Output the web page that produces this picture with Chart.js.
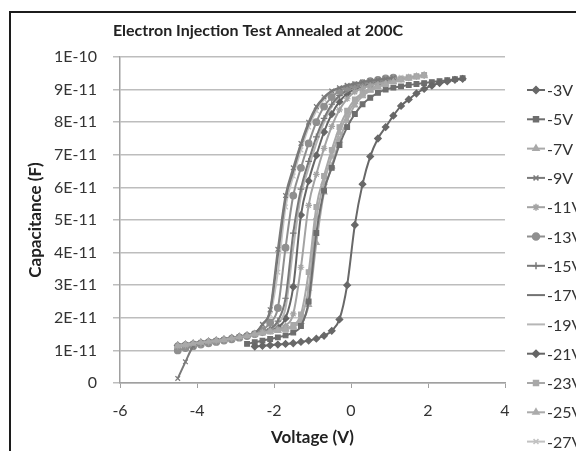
<!DOCTYPE html>
<html>
<head>
<meta charset="utf-8">
<script src="https://cdn.jsdelivr.net/npm/chart.js@4/dist/chart.umd.min.js"></script>
<style>
  html, body { margin: 0; padding: 0; background: #fff; overflow: hidden; }
  #frame { position: absolute; left: 9px; top: 11px; width: 700px; height: 600px;
           border-left: 2px solid #1c1c1c; border-top: 2px solid #1c1c1c; }
  #wrap { position: absolute; left: 0; top: 0; width: 576px; height: 451px; }
</style>
</head>
<body>
<div id="frame"></div>
<div id="wrap"><canvas id="cvChart" width="576" height="451"></canvas></div>
<script>
// voltage sweep (V), shared by all curves
var voltage = [-4.5, -4.3, -4.1, -3.9, -3.7, -3.5, -3.3, -3.1, -2.9, -2.7, -2.5, -2.3, -2.1, -1.9,
  -1.7, -1.5, -1.3, -1.1, -0.9, -0.7, -0.5, -0.3, -0.1, 0.1, 0.3, 0.5, 0.7, 0.9, 1.1, 1.3, 1.5,
  1.7, 1.9, 2.1, 2.3, 2.5, 2.7, 2.9];

// capacitance in units of 1E-11 F, one list per injection voltage
var cap_3 = [null, null, null, null, null, null, null, null, null, null, 1.12, 1.14, 1.16, 1.18,
  1.2, 1.22, 1.26, 1.3, 1.36, 1.45, 1.6, 1.95, 3.0, 4.85, 6.1, 6.95, 7.5, 7.85, 8.2, 8.5, 8.7,
  8.88, 9.02, 9.12, 9.2, 9.25, 9.3, 9.33];
var cap_5 = [null, null, null, null, null, null, null, null, null, 1.2, 1.25, 1.3, 1.35, 1.4,
  1.46, 1.55, 1.75, 2.5, 4.6, 5.9, 6.6, 7.3, 7.85, 8.25, 8.55, 8.75, 8.9, 9.0, 9.06, 9.1, 9.14,
  9.17, 9.2, 9.23, 9.26, 9.29, 9.32, 9.35];
var cap_7 = [1.15, 1.18, 1.21, 1.24, 1.27, 1.3, 1.33, 1.37, 1.41, 1.45, 1.5, 1.53, 1.57, 1.6,
  1.64, 1.72, 1.88, 2.4, 4.3, 5.85, 6.65, 7.45, 8.05, 8.52, 8.8, 8.97, 9.08, 9.16, 9.23, 9.29, 9.34,
  9.38, 9.42];
var cap_9 = [0.14, 0.65, 1.12, 1.22, 1.26, 1.3, 1.33, 1.37, 1.41, 1.46, 1.52, 1.8, 2.25, 4.1,
  5.75, 6.6, 7.35, 8.0, 8.48, 8.77, 8.96, 9.06, 9.13, 9.18, 9.23, 9.27, 9.3, 9.33, 9.36];
var cap_11 = [1.13, 1.16, 1.19, 1.22, 1.25, 1.28, 1.32, 1.36, 1.4, 1.44, 1.49, 1.55, 1.6, 1.65,
  1.76, 2.12, 3.55, 5.45, 6.4, 7.2, 7.87, 8.38, 8.72, 8.93, 9.04, 9.12, 9.18, 9.23, 9.28, 9.32, 9.36,
  9.4, 9.43];
var cap_13 = [1.0, 1.07, 1.13, 1.18, 1.22, 1.26, 1.3, 1.34, 1.39, 1.44, 1.5, 1.62, 1.85, 2.3,
  4.15, 5.75, 6.6, 7.35, 8.0, 8.48, 8.77, 8.96, 9.06, 9.13, 9.2, 9.26, 9.3, 9.34, 9.37];
var cap_15 = [1.16, 1.19, 1.22, 1.25, 1.28, 1.31, 1.34, 1.38, 1.42, 1.46, 1.51, 1.58, 1.66, 1.9,
  2.6, 4.6, 5.95, 6.8, 7.55, 8.12, 8.55, 8.82, 8.98, 9.07, 9.14, 9.19, 9.23, 9.27, 9.3];
var cap_17 = [1.17, 1.2, 1.23, 1.26, 1.29, 1.32, 1.35, 1.39, 1.43, 1.47, 1.53, 1.8, 2.2, 3.9,
  5.65, 6.5, 7.3, 7.95, 8.45, 8.75, 8.95, 9.05, 9.12, 9.18, 9.22, 9.26, 9.3, 9.33, 9.36];
var cap_19 = [1.14, 1.17, 1.2, 1.23, 1.26, 1.29, 1.33, 1.37, 1.41, 1.45, 1.5, 1.57, 1.64, 1.82,
  2.3, 4.15, 5.75, 6.6, 7.35, 8.0, 8.48, 8.77, 8.96, 9.06, 9.13, 9.18, 9.23, 9.27, 9.31, 9.34, 9.37,
  9.4, 9.43];
var cap_21 = [1.15, 1.18, 1.21, 1.24, 1.27, 1.3, 1.34, 1.38, 1.42, 1.46, 1.5, 1.56, 1.62, 1.72,
  1.98, 2.95, 5.15, 6.2, 6.98, 7.7, 8.25, 8.63, 8.87, 9.01, 9.1, 9.16, 9.21, 9.26, 9.3];
var cap_23 = [1.14, 1.17, 1.2, 1.23, 1.26, 1.29, 1.32, 1.36, 1.4, 1.44, 1.49, 1.54, 1.58, 1.62,
  1.67, 1.78, 2.1, 3.4, 5.4, 6.35, 7.15, 7.85, 8.35, 8.7, 8.9, 9.03, 9.12, 9.2, 9.27, 9.32, 9.37,
  9.41, 9.45];
var cap_25 = [1.15, 1.18, 1.21, 1.24, 1.27, 1.3, 1.33, 1.37, 1.41, 1.45, 1.5, 1.54, 1.58, 1.61,
  1.66, 1.74, 1.98, 2.9, 5.07, 6.15, 6.95, 7.68, 8.22, 8.62, 8.86, 9.0, 9.1, 9.18, 9.25, 9.31, 9.36,
  9.4, 9.44];
var cap_27 = [1.16, 1.19, 1.22, 1.25, 1.28, 1.31, 1.34, 1.38, 1.42, 1.46, 1.52, 1.78, 2.1, 3.4,
  5.4, 6.35, 7.15, 7.85, 8.35, 8.7, 8.9, 9.03, 9.11, 9.17, 9.22, 9.26, 9.3, 9.33, 9.36, 9.38, 9.4,
  9.42, 9.44];

var series_names = ["-3V", "-5V", "-7V", "-9V", "-11V", "-13V", "-15V", "-17V", "-19V", "-21V",
  "-23V", "-25V", "-27V"];
var series_values = [cap_3, cap_5, cap_7, cap_9, cap_11, cap_13, cap_15, cap_17, cap_19, cap_21,
  cap_23, cap_25, cap_27];
var series_colors = ["#686868", "#6e6e6e", "#a9a9a9", "#7a7a7a", "#a3a3a3", "#8f8f8f", "#797979",
  "#727272", "#b6b6b6", "#666666", "#a8a8a8", "#ababab", "#c2c2c2"];
var series_markers = ["rectRot", "rect", "triangle", "crossRot", "star", "circle", "cross", false,
  false, "rectRot", "rect", "triangle", "crossRot"];

var y_ticks = [0, 1, 2, 3, 4, 5, 6, 7, 8, 9, 10];
var x_ticks = [-6, -4, -2, 0, 2, 4];

var font_family = "Lato, 'Open Sans', sans-serif";
var text_color = "#333333";

function make_points(values) {
  var pts = [];
  for (var i = 0; i < voltage.length; i++) {
    if (values[i] !== null && values[i] !== undefined) {
      pts.push({ x: voltage[i], y: values[i] });
    }
  }
  return pts;
}

function cap_label(v) {
  if (v === 0) return "0";
  if (v === 10) return "1E-10";
  return v + "E-11";
}

// title drawn off-centre like the original, plus the side legend that runs off the page
var deco_plugin = {
  id: "deco",
  afterDraw: function (chart) {
    var ctx = chart.ctx;
    ctx.save();
    ctx.fillStyle = "#222222";
    ctx.font = "bold 16px " + font_family;
    ctx.textAlign = "center";
    ctx.textBaseline = "middle";
    ctx.fillText("Electron Injection Test Annealed at 200C", 258, 31);

    ctx.font = "16px " + font_family;
    ctx.textAlign = "left";
    for (var i = 0; i < chart.data.datasets.length; i++) {
      var ds = chart.data.datasets[i];
      var ly = 90 + i * 29.3;
      ctx.strokeStyle = ds.borderColor;
      ctx.lineWidth = 2;
      ctx.beginPath();
      ctx.moveTo(527, ly);
      ctx.lineTo(545, ly);
      ctx.stroke();
      if (ds.pointStyle) {
        ctx.fillStyle = ds.borderColor;
        ctx.lineWidth = 1.5;
        Chart.helpers.drawPoint(ctx, { pointStyle: ds.pointStyle, radius: 3.5, borderWidth: 1.5, rotation: 0 }, 536, ly);
      }
      ctx.fillStyle = text_color;
      ctx.fillText(ds.label, 547, ly + 1);
    }
    ctx.restore();
  },
};

function build_chart() {
  var datasets = [];
  for (var i = 0; i < series_names.length; i++) {
    var col = series_colors[i];
    datasets.push({
      label: series_names[i],
      data: make_points(series_values[i]),
      showLine: true,
      borderColor: col,
      backgroundColor: col,
      borderWidth: 2,
      pointStyle: series_markers[i],
      pointRadius: series_markers[i] ? 3.3 : 0,
      pointBorderWidth: 1.2,
      cubicInterpolationMode: "monotone",
    });
  }

  var ctx = document.getElementById("cvChart").getContext("2d");
  var cvChart = new Chart(ctx, {
    type: "scatter",
    data: { datasets: datasets },
    plugins: [deco_plugin],
    options: {
      responsive: false,
      animation: false,
      events: [],
      layout: { padding: { left: 0, top: 57, right: 71, bottom: 0 } },
      plugins: {
        legend: { display: false },
        tooltip: { enabled: false },
      },
      scales: {
        x: {
          type: "linear",
          min: -6,
          max: 4,
          afterFit: function (scale) { scale.height = 68; },
          afterBuildTicks: function (scale) {
            scale.ticks = x_ticks.map(function (v) { return { value: v }; });
          },
          grid: { drawOnChartArea: false, drawTicks: true, tickLength: 5, color: "#a0a0a0" },
          border: { color: "#a0a0a0", width: 1.5 },
          ticks: { color: text_color, font: { family: font_family, size: 16 }, padding: 13 },
          title: {
            display: true,
            text: "Voltage (V)",
            color: "#222222",
            font: { family: font_family, size: 17, weight: "bold" },
            padding: { top: 0, bottom: 3 },
          },
        },
        y: {
          type: "linear",
          min: 0,
          max: 10,
          afterFit: function (scale) { scale.width = 120; },
          afterBuildTicks: function (scale) {
            scale.ticks = y_ticks.map(function (v) { return { value: v }; });
          },
          grid: { color: "#bdbdbd", lineWidth: 1.5, drawTicks: true, tickLength: 7 },
          border: { color: "#a0a0a0", width: 1.5 },
          ticks: {
            color: text_color,
            font: { family: font_family, size: 16 },
            padding: 16,
            callback: function (v) { return cap_label(v); },
          },
          title: {
            display: true,
            text: "Capacitance (F)",
            color: "#222222",
            font: { family: font_family, size: 17, weight: "bold" },
            padding: { top: 25, bottom: 0 },
          },
        },
      },
    },
  });
  return cvChart;
}

window.addEventListener("DOMContentLoaded", build_chart);
</script>
</body>
</html>
